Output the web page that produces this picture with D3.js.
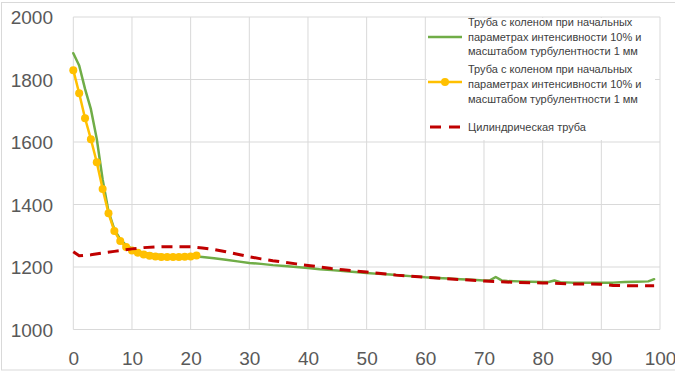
<!DOCTYPE html>
<html>
<head>
<meta charset="utf-8">
<script src="https://cdn.jsdelivr.net/npm/d3@7"></script>
<style>
  html, body { margin: 0; padding: 0; background: #fff; }
  svg { display: block; }
</style>
</head>
<body>
<svg id="chart" width="675" height="372"></svg>
<script>
// Series data: distance (x) and value (y)
const elbowX = [0, 1, 2, 3, 4, 5, 6, 7, 8, 9, 10, 11, 12, 14, 16, 18, 20, 22, 24, 26, 28, 30, 32, 34, 36, 38, 40, 42, 44, 46, 48, 50, 52, 54, 56, 58, 60, 62, 64, 66, 68, 70, 71, 72, 73, 74, 76, 78, 80, 81, 82, 83, 85, 88, 90, 92, 94, 96, 98, 99];
const elbowY = [1884, 1845, 1770, 1705, 1610, 1480, 1378, 1320, 1288, 1270, 1258, 1250, 1245, 1240, 1237, 1236, 1235, 1232, 1228, 1223, 1218, 1213, 1210, 1206, 1203, 1200, 1197, 1193, 1190, 1187, 1184, 1181, 1178, 1176, 1173, 1170, 1167, 1165, 1163, 1161, 1159, 1157, 1157, 1168, 1157, 1155, 1154, 1153, 1152, 1152, 1157, 1151, 1150, 1150, 1150, 1150, 1152, 1153, 1154, 1161];

const elbowMarkX = [0, 1, 2, 3, 4, 5, 6, 7, 8, 9, 10, 11, 12, 13, 14, 15, 16, 17, 18, 19, 20, 21];
const elbowMarkY = [1830, 1756, 1676, 1609, 1535, 1450, 1372, 1315, 1283, 1264, 1253, 1246, 1240, 1236, 1234, 1232, 1232, 1232, 1232, 1233, 1234, 1237];

const cylX = [0, 1, 3, 5, 7, 10, 12, 14, 16, 18, 20, 22, 24, 26, 28, 30, 32, 34, 36, 38, 40, 42, 44, 46, 48, 50, 55, 60, 65, 70, 75, 80, 85, 90, 92, 95, 99];
const cylY = [1249, 1236, 1239, 1245, 1250, 1258, 1262, 1264, 1265, 1265, 1265, 1261, 1256, 1249, 1241, 1233, 1226, 1220, 1215, 1210, 1205, 1200, 1195, 1191, 1187, 1184, 1174, 1167, 1161, 1155, 1151, 1149, 1146, 1145, 1141, 1140, 1140];

const xTicks = [0, 10, 20, 30, 40, 50, 60, 70, 80, 90, 100];
const yTicks = [1000, 1200, 1400, 1600, 1800, 2000];

const legendLabels = [
  ["Труба с коленом при начальных", "параметрах интенсивности 10% и", "масштабом турбулентности 1 мм"],
  ["Труба с коленом при начальных", "параметрах интенсивности 10% и", "масштабом турбулентности 1 мм"],
  ["Цилиндрическая труба"]
];

const GREEN = "#70AD47", YELLOW = "#FFC000", RED = "#C00000";
const GRID = "#D9D9D9", TEXT = "#595959";

const svg = d3.select("#chart");

// outer chart border
svg.append("rect")
  .attr("x", 1.5).attr("y", 2.5).attr("width", 680).attr("height", 367.5)
  .attr("fill", "#fff").attr("stroke", GRID).attr("stroke-width", 1);

const x = d3.scaleLinear().domain([0, 100]).range([73.3, 660]);
const y = d3.scaleLinear().domain([1000, 2000]).range([329.5, 17]);

// gridlines
const gridG = svg.append("g");
gridG.selectAll("line.v").data(xTicks).join("line")
  .attr("x1", d => x(d)).attr("x2", d => x(d))
  .attr("y1", y(2000)).attr("y2", y(1000))
  .attr("stroke", GRID).attr("stroke-width", 1);
gridG.selectAll("line.h").data(yTicks).join("line")
  .attr("x1", x(0)).attr("x2", x(100))
  .attr("y1", d => y(d)).attr("y2", d => y(d))
  .attr("stroke", GRID).attr("stroke-width", 1);

// axes (labels only)
const yAxis = d3.axisLeft(y).tickValues(yTicks).tickSize(0).tickPadding(0).tickFormat(d3.format("d"));
const gy = svg.append("g").attr("transform", "translate(53,0)").call(yAxis);
gy.select(".domain").remove();
gy.selectAll("text").attr("font-family", "Liberation Sans, Arial, sans-serif")
  .attr("font-size", 19).attr("fill", TEXT).attr("dy", "0.36em");

const xAxis = d3.axisBottom(x).tickValues(xTicks).tickSize(0).tickPadding(0).tickFormat(d3.format("d"));
const gx = svg.append("g").attr("transform", "translate(0,351)").call(xAxis);
gx.select(".domain").remove();
gx.selectAll("text").attr("font-family", "Liberation Sans, Arial, sans-serif")
  .attr("font-size", 19).attr("fill", TEXT).attr("dy", "0.76em");

// series
const line = d3.line().x(d => x(d[0])).y(d => y(d[1]));
const elbow = elbowX.map((v, i) => [v, elbowY[i]]);
const elbowMark = elbowMarkX.map((v, i) => [v, elbowMarkY[i]]);
const cyl = cylX.map((v, i) => [v, cylY[i]]);

svg.append("path").datum(elbow).attr("d", line)
  .attr("fill", "none").attr("stroke", GREEN).attr("stroke-width", 2.5)
  .attr("stroke-linejoin", "round").attr("stroke-linecap", "round");

svg.append("path").datum(elbowMark).attr("d", line)
  .attr("fill", "none").attr("stroke", YELLOW).attr("stroke-width", 2.5)
  .attr("stroke-linejoin", "round");
svg.append("g").selectAll("circle").data(elbowMark).join("circle")
  .attr("cx", d => x(d[0])).attr("cy", d => y(d[1])).attr("r", 4)
  .attr("fill", YELLOW);

svg.append("path").datum(cyl).attr("d", line)
  .attr("fill", "none").attr("stroke", RED).attr("stroke-width", 3)
  .attr("stroke-dasharray", "11,7");

// legend
const lg = svg.append("g");
lg.append("rect").attr("x", 427).attr("y", 18).attr("width", 228).attr("height", 122).attr("fill", "#fff");

const legendSwatchY = [37, 82, 127];
const legendTextY = [[22, 37, 51], [69, 84, 99], [127]];

lg.append("line").attr("x1", 428).attr("x2", 462).attr("y1", legendSwatchY[0]).attr("y2", legendSwatchY[0])
  .attr("stroke", GREEN).attr("stroke-width", 2.5);
lg.append("line").attr("x1", 428).attr("x2", 462).attr("y1", legendSwatchY[1]).attr("y2", legendSwatchY[1])
  .attr("stroke", YELLOW).attr("stroke-width", 2.5);
lg.append("circle").attr("cx", 445).attr("cy", legendSwatchY[1]).attr("r", 4).attr("fill", YELLOW);
lg.append("line").attr("x1", 430).attr("x2", 462).attr("y1", legendSwatchY[2]).attr("y2", legendSwatchY[2])
  .attr("stroke", RED).attr("stroke-width", 3).attr("stroke-dasharray", "11,8");

legendLabels.forEach((lines, i) => {
  lines.forEach((t, j) => {
    lg.append("text")
      .attr("x", 468).attr("y", legendTextY[i][j]).attr("dy", "0.35em")
      .attr("font-family", "Liberation Sans, Arial, sans-serif")
      .attr("font-size", 11).attr("fill", "#404040")
      .text(t);
  });
});
</script>
</body>
</html>
